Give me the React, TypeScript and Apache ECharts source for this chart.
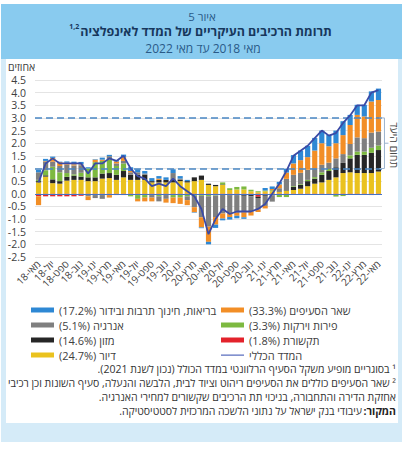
import React, { useEffect, useRef } from "react";
import * as echarts from "echarts";

const months = [
  "מאי-18","יונ-18","יול-18","אוג-18","ספט-18","אוק-18","נוב-18","דצמ-18",
  "ינו-19","פבר-19","מרץ-19","אפר-19","מאי-19","יונ-19","יול-19","אוג-19","ספט-19","אוק-19","נוב-19","דצמ-19",
  "ינו-20","פבר-20","מרץ-20","אפר-20","מאי-20","יונ-20","יול-20","אוג-20","ספט-20","אוק-20","נוב-20","דצמ-20",
  "ינו-21","פבר-21","מרץ-21","אפר-21","מאי-21","יונ-21","יול-21","אוג-21","ספט-21","אוק-21","נוב-21","דצמ-21",
  "ינו-22","פבר-22","מרץ-22","אפר-22","מאי-22",
];

const housing = [
  0.45, 0.68, 0.42, 0.4, 0.52, 0.55, 0.55, 0.5, 0.5, 0.6, 0.62, 0.55, 0.65,
  0.55, 0.55, 0.55, 0.45, 0.45, 0.45, 0.45, 0.5, 0.45, 0.5, 0.55, 0.35,
  0.3, 0.35, 0.15, 0.17, 0.17, 0.1, 0.06, 0.1, 0.1, 0.08, 0.12,
  0.15, 0.2, 0.3, 0.4, 0.45, 0.55, 0.65, 0.82, 0.85, 0.82, 0.82, 0.82, 0.88,
];
const comms = [
  -0.1, -0.1, -0.1, -0.1, -0.1, -0.1, -0.08, -0.05, -0.05, -0.05, -0.05, -0.05, -0.05,
  -0.05, -0.05, -0.05, -0.05, -0.05, -0.05, -0.05, -0.03, -0.03, -0.03, -0.03, -0.05,
  -0.05, -0.03, -0.05, -0.05, -0.05, -0.05, -0.12, -0.05, -0.04, -0.03, -0.03,
  -0.03, -0.03, -0.03, -0.03, -0.03, -0.03, -0.03, -0.03, -0.03, -0.03, -0.04, -0.05, -0.03,
];
const food = [
  0.05, 0.05, 0.15, 0.1, 0.15, 0.17, 0.13, 0.15, 0.15, 0.2, 0.2, 0.2, 0.25,
  0.2, 0.2, 0.2, 0.05, 0.1, 0.1, 0.12, 0.05, 0.05, 0.15, 0.17, 0.05,
  0.05, 0.02, -0.02, 0, -0.03, -0.05, -0.05, -0.03, -0.02, 0.02, 0.02,
  0.12, 0.15, 0.2, 0.2, 0.3, 0.35, 0.4, 0.4, 0.55, 0.72, 0.72, 0.8, 0.85,
];
const fruitVeg = [
  0.05, 0.2, 0.5, 0.35, 0.15, 0.05, 0.15, 0.35, 0.6, 0.5, 0.55, 0.35, 0.3,
  -0.05, -0.15, -0.1, 0, -0.05, 0, -0.1, -0.12, -0.07, -0.05, -0.05, -0.05,
  -0.02, 0.08, 0.07, 0.1, 0.12, 0.06, 0.04, 0.03, 0.04, -0.1, -0.1,
  0.03, 0.03, 0.05, 0.06, 0.1, 0.08, -0.08, -0.06, 0.12, 0.13, 0.13, 0.2, 0.18,
];
const energy = [
  0.3, 0.35, 0.2, 0.25, 0.33, 0.35, 0.3, -0.05, -0.12, -0.15, 0.12, 0.1, 0.1,
  0.1, 0.1, 0.05, -0.1, -0.2, -0.15, 0.25, 0.05, -0.15, -0.45, -0.85, -1.2,
  -0.85, -0.75, -0.7, -0.7, -0.65, -0.6, -0.45, -0.4, -0.25, 0.12, 0.45,
  0.45, 0.45, 0.4, 0.35, 0.3, 0.25, 0.35, 0.35, 0.45, 0.56, 0.53, 0.6, 0.55,
];
const otherItems = [
  -0.35, 0.02, 0.15, 0.15, 0.08, 0.05, 0.03, -0.15, 0.1, 0.05, -0.1, 0.08, 0.15,
  0.05, -0.1, -0.15, -0.15, 0.05, -0.15, -0.22, -0.25, -0.2, -0.2, -0.4, -0.6,
  -0.3, -0.2, -0.15, -0.12, -0.2, -0.16, -0.1, -0.1, 0.05, 0.15, 0.25,
  0.45, 0.5, 0.5, 0.7, 0.85, 0.65, 0.6, 0.75, 0.75, 0.89, 0.86, 1.23, 1.25,
];
const healthEdu = [
  0.1, 0.08, 0.05, 0.02, 0.05, 0.1, 0.1, 0.05, 0.02, 0.08, 0.05, 0.05, 0.1,
  0.15, 0.12, 0.1, 0.12, 0.1, 0.1, 0.15, 0.1, 0.05, -0.02, -0.03, -0.1,
  -0.13, -0.07, -0.1, -0.1, -0.06, 0, 0, 0.1, 0.1, 0.1, 0.15,
  0.33, 0.38, 0.45, 0.5, 0.5, 0.45, 0.5, 0.55, 0.4, 0.4, 0.46, 0.4, 0.45,
];
const totalCpi = [
  0.45, 1.2, 1.4, 1.2, 1.2, 1.2, 1.2, 0.8, 1.2, 1.2, 1.4, 1.3, 1.5,
  1.0, 0.7, 0.6, 0.3, 0.4, 0.3, 0.6, 0.3, 0.1, -0.1, -0.6, -1.6,
  -1.0, -0.6, -0.8, -0.7, -0.7, -0.7, -0.6, -0.4, 0.0, 0.4, 0.9,
  1.5, 1.7, 1.9, 2.2, 2.5, 2.3, 2.4, 2.8, 3.1, 3.5, 3.5, 4.0, 4.1,
];

const yMin = -2.5;
const yMax = 4.5;
const yStep = 0.5;
const targetLow = 1;
const targetHigh = 3;

const N_HOUSING = "דיור (24.7%)";
const N_COMMS = "תקשורת (1.8%)";
const N_FOOD = "מזון (14.6%)";
const N_FRUIT = "פירות וירקות (3.3%)";
const N_ENERGY = "אנרגיה (5.1%)";
const N_OTHER = "שאר הסעיפים (33.3%)";
const N_HEALTH = "בריאות, חינוך תרבות ובידור (17.2%)";
const N_TOTAL = "המדד הכללי";

const TITLE = "תרומת הרכיבים העיקריים של המדד לאינפלציה";

const FONT = "'Open Sans', 'Liberation Sans', 'DejaVu Sans', sans-serif";
const rtl = (s: string) => "\u200F" + s + "\u200F";

function measure(text: string, font: string) {
  const c = document.createElement("canvas");
  const ctx = c.getContext("2d")!;
  ctx.font = font;
  return ctx.measureText(text).width;
}

function txt(text: string, x: number, y: number, size: number, color: string, align = "right", weight = "normal", extra: any = {}) {
  return {
    type: "text",
    x,
    y,
    z: 10,
    silent: true,
    style: { text: rtl(text), fill: color, font: `${weight} ${size}px ${FONT}`, lineHeight: Math.ceil(size), align, verticalAlign: "middle" },
    ...extra,
  };
}

export default function App() {
  const ref = useRef<HTMLDivElement>(null);
  useEffect(() => {
    document.body.style.margin = "0";
    const chart = echarts.init(ref.current!, null, { renderer: "svg" });
    const bar = (name: string, data: number[], color: string) => ({
      name,
      type: "bar",
      stack: "total",
      data,
      barCategoryGap: "27%",
      itemStyle: { color },
      emphasis: { disabled: true },
    });
    const legendText = { fontSize: 11, color: "#404040", lineHeight: 14, fontFamily: FONT };
    const option: any = {
      animation: false,
      textStyle: { fontFamily: FONT },
      grid: { left: 35, right: 22, top: 80, bottom: 193, containLabel: false },
      xAxis: {
        type: "category",
        data: months,
        axisLine: { show: false, onZero: false },
        axisTick: { show: false },
        axisLabel: {
          interval: 1,
          rotate: 45,
          fontSize: 10,
          color: "#404040",
          margin: 5,
          fontFamily: FONT,
          showMinLabel: true,
          showMaxLabel: true,
          hideOverlap: false,
        },
        splitLine: { show: false },
      },
      yAxis: {
        type: "value",
        min: yMin,
        max: yMax,
        interval: yStep,
        axisLine: { show: false },
        axisTick: { show: false },
        axisLabel: { formatter: (v: number) => v.toFixed(1), fontSize: 10.5, lineHeight: 11, color: "#404040", margin: 9, fontFamily: FONT },
        splitLine: { lineStyle: { color: "#E4E4E4", width: 1 } },
      },
      legend: [
        {
          orient: "vertical",
          left: 26,
          top: 298,
          itemWidth: 23,
          itemHeight: 5,
          itemGap: 1,
          selectedMode: false,
          formatter: rtl,
          textStyle: legendText,
          data: [
            { name: N_HEALTH, icon: "rect" },
            { name: N_ENERGY, icon: "rect" },
            { name: N_FOOD, icon: "rect" },
            { name: N_HOUSING, icon: "rect" },
          ],
        },
        {
          orient: "vertical",
          left: 216,
          top: 298,
          itemWidth: 23,
          itemHeight: 5,
          itemGap: 1,
          selectedMode: false,
          formatter: rtl,
          textStyle: legendText,
          data: [
            { name: N_OTHER, icon: "rect" },
            { name: N_FRUIT, icon: "rect" },
            { name: N_COMMS, icon: "rect" },
            {
              name: N_TOTAL,
              icon: "path://M0,0 L23,0 L23,0 Z M0,2 L23,2 L23,3.2 L0,3.2 Z M0,5 L23,5 L23,5 Z",
              itemStyle: { color: "#5B6FBF", borderWidth: 0 },
            },
          ],
        },
      ],
      series: [
        bar(N_HOUSING, housing, "#EAC21E"),
        bar(N_COMMS, comms, "#E3222B"),
        bar(N_FOOD, food, "#262626"),
        bar(N_FRUIT, fruitVeg, "#7DB940"),
        bar(N_ENERGY, energy, "#7F7F7F"),
        bar(N_OTHER, otherItems, "#F28E26"),
        bar(N_HEALTH, healthEdu, "#2E88D4"),
        {
          name: N_TOTAL,
          type: "line",
          data: totalCpi,
          symbol: "none",
          showSymbol: false,
          z: 5,
          lineStyle: { color: "#3A4AA6", width: 1.8 },
          itemStyle: { color: "#3A4AA6" },
          emphasis: { disabled: true },
          markLine: {
            silent: true,
            symbol: "none",
            label: { show: false },
            lineStyle: { color: "#4A86C4", width: 1.6, type: [7, 4] },
            data: [
              { yAxis: 0, lineStyle: { type: "solid", color: "#4472C4", width: 1.2 } },
              { yAxis: targetLow },
              { yAxis: targetHigh },
            ],
          },
        },
      ],
    };
    chart.setOption(option);

    const yHi = chart.convertToPixel({ yAxisIndex: 0 }, targetHigh) as number;
    const yLo = chart.convertToPixel({ yAxisIndex: 0 }, targetLow) as number;
    const xEnd = chart.convertToPixel({ xAxisIndex: 0 }, months[months.length - 1]) as number;
    const bx = xEnd + 6;
    const yMid = (yHi + yLo) / 2;

    const titleFont = `bold 12.5px ${FONT}`;
    const titleW = measure(TITLE, titleFont);
    const titleCx = 206;
    const supX = titleCx - titleW / 2 - 1;

    const graphic: any[] = [
      txt("איור 5", 202, 16.5, 11.5, "#2A5A88", "center"),
      txt(TITLE, titleCx, 31, 12.5, "#17375C", "center", "bold"),
      { type: "text", x: supX, y: 26, z: 10, silent: true, style: { text: "1,2", fill: "#17375C", font: `bold 7px ${FONT}`, lineHeight: 7, align: "right", verticalAlign: "middle" } },
      txt("מאי 2018 עד מאי 2022", 203, 48, 12, "#2A5A88", "center"),
      txt("אחוזים", 8, 67, 10.5, "#404040", "left"),
      {
        type: "polyline",
        z: 10,
        silent: true,
        shape: { points: [[bx - 5, yHi], [bx, yHi], [bx, yLo], [bx - 5, yLo]] },
        style: { stroke: "#9BB3CE", lineWidth: 1, fill: null },
      },
      {
        type: "line",
        z: 10,
        silent: true,
        shape: { x1: bx, y1: yMid, x2: bx + 4, y2: yMid },
        style: { stroke: "#9BB3CE", lineWidth: 1 },
      },
      txt("תחום היעד", bx + 10, yMid + 2, 10.5, "#404040", "center", "normal", { rotation: -Math.PI / 2 }),
      txt("¹ בסוגריים מופיע משקל הסעיף הרלוונטי במדד הכולל (נכון לשנת 2021).", 396, 369, 10.5, "#333333"),
      txt("² שאר הסעיפים כוללים את הסעיפים ריהוט וציוד לבית, הלבשה והנעלה, סעיף השונות וכן רכיבי", 396, 383, 10.5, "#333333"),
      txt("אחזקת הדירה והתחבורה, בניכוי תת הרכיבים שקשורים למחירי האנרגיה.", 396, 397, 10.5, "#333333"),
      txt("המקור:", 396, 411, 10.5, "#222222", "right", "bold"),
      txt("עיבודי בנק ישראל על נתוני הלשכה המרכזית לסטטיסטיקה.", 362, 411, 10.5, "#333333"),
    ];
    chart.setOption({ graphic });

    return () => chart.dispose();
  }, []);

  return (
    <div style={{ position: "fixed", left: 0, top: 0, width: 404, height: 450, background: "#ffffff" }}>
      <div style={{ position: "absolute", left: 1, top: 4, width: 401, height: 438, background: "#D5EBF8" }} />
      <div style={{ position: "absolute", left: 1, top: 4, width: 401, height: 55, background: "#89CBEF" }} />
      <div style={{ position: "absolute", left: 6, top: 59, width: 392, height: 364, background: "#ffffff" }} />
      <div ref={ref} style={{ position: "absolute", left: 0, top: 0, width: 404, height: 450 }} />
    </div>
  );
}
